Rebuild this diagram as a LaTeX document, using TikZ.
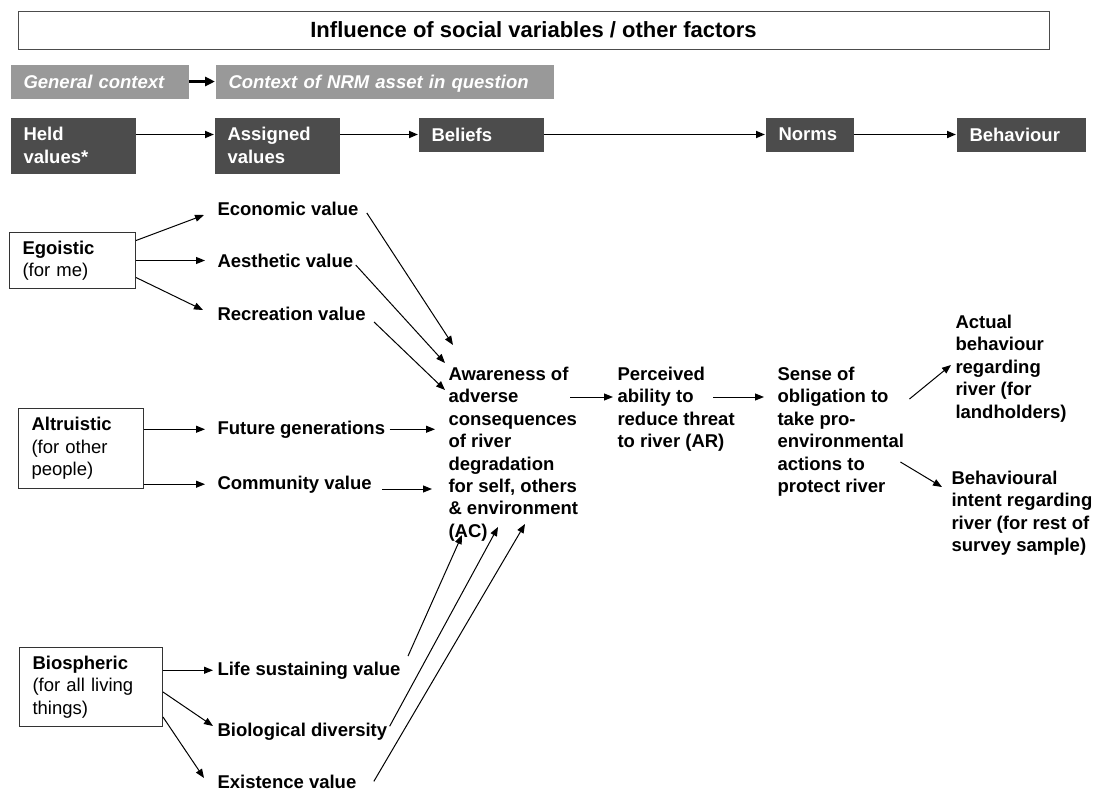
\documentclass[tikz,border=0pt]{standalone}
\usepackage{fontspec}
\setmainfont{Liberation Sans}
\usetikzlibrary{calc,arrows.meta,positioning}

\definecolor{ctxgray}{gray}{0.6}
\definecolor{stagegray}{gray}{0.3}
\newcommand\diagfont{\fontsize{18.5}{22.4}\selectfont}

\tikzset{
  context/.style={fill=ctxgray, text=white, font=\diagfont\bfseries\itshape,
    anchor=north west, minimum height=34pt, inner xsep=13pt, inner ysep=0pt, align=left,
    text height=13.5pt, text depth=0pt},
  stage/.style={fill=stagegray, text=white, font=\diagfont\bfseries,
    anchor=north west, inner xsep=13pt, inner ysep=0pt, align=left},
  stagearrow/.style={->, line width=1.8pt},
  valuebox/.style={draw=black!80, anchor=north west, inner xsep=13pt, inner ysep=0pt, align=left},
  vlabel/.style={anchor=base west, inner sep=0pt, font=\diagfont\bfseries},
  concept/.style={anchor=north west, inner sep=0pt, align=left, font=\diagfont\bfseries}
}

\begin{document}
\begin{tikzpicture}[x=1pt,y=-1pt,font=\diagfont,line width=1pt,
    >={Triangle[length=9pt,width=7pt]}]
  \useasboundingbox (0,0) rectangle (1095,790);

  % header rows
  \node[draw=black!70, minimum width=1031pt, minimum height=38pt,
    font=\fontsize{22}{26}\selectfont\bfseries] (infl) at (533.5,30)
    {Influence of social variables / other factors};

  \node[context, text width=152pt] (gen) at (10,64) {General context};
  \node[context, text width=312pt, right=26pt of gen] (ctx) {Context of NRM asset in question};
  \draw[->, line width=2.5pt, >={Triangle[length=10pt,width=9pt]}] (gen) -- (ctx);

  \node[stage, text width=99pt, minimum height=56pt] (held) at (10,117) {Held\\values*};
  \node[stage, text width=99pt, minimum height=56pt] (assigned) at (214,117) {Assigned\\values};
  \node[stage, text width=99pt, minimum height=34pt] (beliefs) at (418,117) {Beliefs};
  \node[stage, text width=62pt, minimum height=34pt] (norms) at (765,117) {Norms};
  \node[stage, text width=103pt, minimum height=34pt] (behav) at (956,117) {Behaviour};

  \draw[stagearrow] (held.east |- beliefs) -- (assigned.west |- beliefs);
  \draw[stagearrow] (assigned.east |- beliefs) -- (beliefs);
  \foreach \a/\b in {beliefs/norms, norms/behav} {
    \draw[stagearrow] (\a) -- (\b);
  }

  % held values
  \node[valuebox, text width=100pt, minimum height=56pt] (ego) at (9,232) {\textbf{Egoistic}\\(for me)};
  \node[valuebox, text width=99pt, minimum height=80pt] (alt) at (18,408) {\textbf{Altruistic}\\(for other\\people)};
  \node[valuebox, text width=117pt, minimum height=79pt] (biosph) at (19,647) {\textbf{Biospheric}\\(for all living\\things)};

  % assigned values
  \node[vlabel] (econ) at (217,215) {Economic value};
  \node[vlabel] (aes) at (217,267) {Aesthetic value};
  \node[vlabel] (rec) at (217,320) {Recreation value};
  \node[vlabel] (fut) at (217,434) {Future generations};
  \node[vlabel] (com) at (217,489) {Community value};
  \node[vlabel] (life) at (217,675) {Life sustaining value};
  \node[vlabel] (biodiv) at (217,736) {Biological diversity};
  \node[vlabel] (exist) at (217,788) {Existence value};

  % beliefs, norms, behaviour
  \node[concept] (ac) at (448,366.5) {Awareness of\\adverse\\consequences\\of river\\degradation\\for self, others\\\& environment\\(AC)};
  \node[concept] (ar) at (617,366.5) {Perceived\\ability to\\reduce threat\\to river (AR)};
  \node[concept] (sense) at (777,366.5) {Sense of\\obligation to\\take pro-\\environmental\\actions to\\protect river};
  \node[concept] (actual) at (955,314.5) {Actual\\behaviour\\regarding\\river (for\\landholders)};
  \node[concept] (intent) at (951,470.5) {Behavioural\\intent regarding\\river (for rest of\\survey sample)};

  % held -> assigned
  \draw[->] ([yshift=20pt]ego.east) -- ([xshift=-13pt]econ.base west);
  \draw[->, shorten >=12pt] (ego.east) -- (ego.east -| aes.west);
  \draw[->] ([yshift=-17pt]ego.east) -- ([shift={(-14pt,10pt)}]rec.base west);
  \draw[->, shorten >=12pt] (alt.east |- fut.west) -- (fut.west);
  \draw[->, shorten >=12pt] (alt.east |- com.west) -- (com.west);
  \draw[->, shorten >=4pt] (biosph.east |- life.west) -- (life.west);
  \draw[->] ([yshift=-5pt]biosph.east) -- ([shift={(-4pt,10pt)}]biodiv.base west);
  \draw[->] ([yshift=-30pt]biosph.east) -- ([shift={(-13pt,10pt)}]exist.base west);

  % assigned -> AC
  \draw[->] ([shift={(8pt,2pt)}]econ.base east) -- ($(ac.north west)+(5,-21.5)$);
  \draw[->] ([shift={(2pt,2pt)}]aes.base east) -- ($(ac.north west)+(-3,-3.5)$);
  \draw[->] ([shift={(8pt,-2pt)}]rec.base east) -- ($(ac.north west)+(-3,23.5)$);
  \draw[->] ([xshift=4pt]fut.east) -- ($(fut.east -| ac.west)+(-13,0)$);
  \draw[->] ([xshift=10pt]com.base east) -- ($(com.base east -| ac.west)+(-16,0)$);
  \draw[->] ([shift={(7pt,5pt)}]life.north east) -- ($(ac.north west)+(14,168.5)$);
  \draw[->] ([shift={(2pt,5pt)}]biodiv.east) -- ($(ac.north west)+(50,160.5)$);
  \draw[->] ([xshift=17pt]exist.east) -- ($(ac.north west)+(77,157.5)$);

  % AC -> AR -> sense -> behaviour
  \draw[->] ($(ac.north west)+(122,30.5)$) -- ($(ar.north west)+(-4,30.5)$);
  \draw[->] ($(ar.north west)+(96,30.5)$) -- ($(sense.north west)+(-13,30.5)$);
  \draw[->] ($(sense.north east)+(5,32.5)$) -- ($(actual.north west)+(-4,50.5)$);
  \draw[->] ($(sense.north east)+(-4,95.5)$) -- ($(intent.north west)+(-9,16.5)$);
\end{tikzpicture}
\end{document}
